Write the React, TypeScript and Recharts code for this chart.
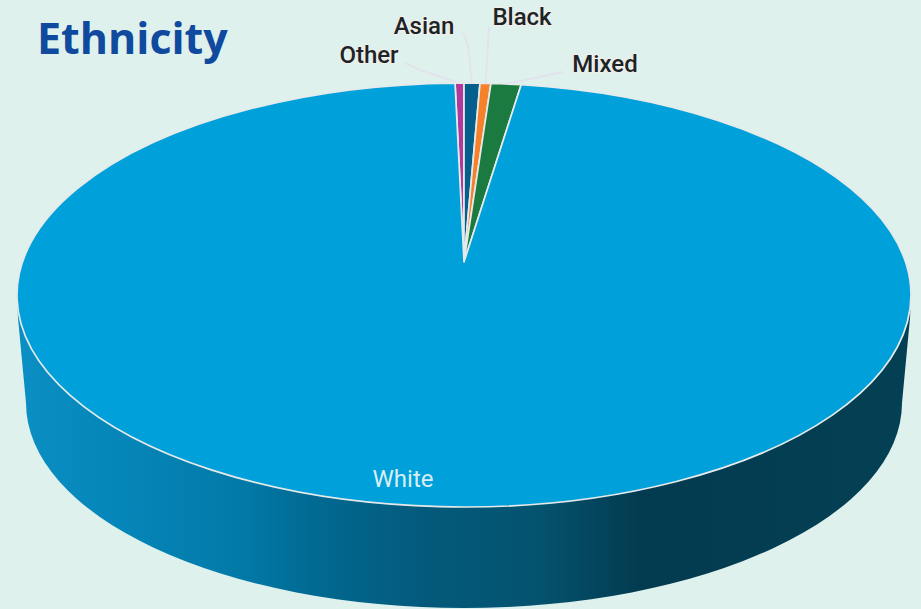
import React from 'react';
import { PieChart, Pie } from 'recharts';

// clockwise from the top of the pie
const categories = ['Other', 'Asian', 'Black', 'Mixed', 'White'];
const shares = [0.32, 0.57, 0.39, 1.08, 97.64];
const sliceColors = ['#b0399b', '#045f8c', '#f5822a', '#1a7a40', '#00a0da'];

const data = categories.map((name, i) => ({ name, value: shares[i], fill: sliceColors[i] }));

// top face is a flattened circle, the apex sits above its centre (perspective)
const SQUASH = 212 / 447;
const APEX_RISE = 33;

// where each label goes, and the route of its leader line
const labelSpots: Record<string, { x: number; y: number; route?: string }> = {
  Other: { x: 369, y: 63, route: '420,70 405,63' },
  Asian: { x: 424, y: 34, route: '468,45 463,33' },
  Black: { x: 522, y: 25, route: '489,27' },
  Mixed: { x: 605, y: 72, route: '563,72' },
  White: { x: 403, y: 487 },
};

const rimPoint = (cx: number, cy: number, r: number, angle: number) => {
  const rad = (angle * Math.PI) / 180;
  return { x: cx + r * Math.cos(rad), y: cy - r * SQUASH * Math.sin(rad) };
};

const FlatSlice = (props: any) => {
  const { cx, cy, outerRadius, startAngle, endAngle, fill, name } = props;
  const a = rimPoint(cx, cy, outerRadius, startAngle);
  const b = rimPoint(cx, cy, outerRadius, endAngle);
  const large = Math.abs(endAngle - startAngle) > 180 ? 1 : 0;
  const top = `M${cx},${cy - APEX_RISE} L${a.x},${a.y} A${outerRadius},${outerRadius * SQUASH} 0 ${large} 1 ${b.x},${b.y} Z`;
  const isWhite = name === 'White' || props.payload?.name === 'White';
  return (
    <g>
      {isWhite && (
        <path
          d={`M${cx - outerRadius},${cy} L${cx - outerRadius + 1},${cy + 23} L${cx - outerRadius + 9},${cy + 108} A438,205 0 0 0 ${cx + outerRadius - 9},${cy + 108} L${cx + outerRadius - 1},${cy + 23} L${cx + outerRadius},${cy} Z`}
          fill="url(#wallGradient)"
        />
      )}
      <path d={top} fill={fill} stroke="#e6eaea" strokeWidth={1.7} strokeLinejoin="round" />
    </g>
  );
};

const renderLabel = (props: any) => {
  const { cx, cy, outerRadius, midAngle, name } = props;
  const spot = labelSpots[name];
  const start = rimPoint(cx, cy, outerRadius, midAngle);
  const isWhite = name === 'White';
  return (
    <g key={name}>
      {spot.route && (
        <polyline
          points={`${start.x},${start.y} ${spot.route}`}
          fill="none"
          stroke="#e2e3ec"
          strokeWidth={2}
        />
      )}
      <text
        x={spot.x}
        y={spot.y}
        textAnchor="middle"
        fontFamily="Roboto, sans-serif"
        fontSize={24}
        fontWeight={isWhite ? 400 : 500}
        fill={isWhite ? '#d8eef6' : '#1a2429'}
        stroke={isWhite ? 'none' : '#fbeee6'}
        strokeWidth={isWhite ? 0 : 1.5}
        paintOrder="stroke"
      >
        {name}
      </text>
    </g>
  );
};

export default function App() {
  return (
    <div style={{ position: 'absolute', left: 0, top: 0, width: 921, height: 609, background: '#dff1ed', overflow: 'hidden' }}>
      <PieChart width={921} height={609} margin={{ top: 0, right: 0, bottom: 0, left: 0 }}>
        <defs>
          <linearGradient id="wallGradient" x1="0" y1="0" x2="1" y2="0">
            <stop offset="0%" stopColor="#0a8fc4" />
            <stop offset="12%" stopColor="#0585b8" />
            <stop offset="25%" stopColor="#027aa8" />
            <stop offset="33%" stopColor="#016a93" />
            <stop offset="45%" stopColor="#045a7c" />
            <stop offset="58%" stopColor="#04536f" />
            <stop offset="70%" stopColor="#033b50" />
            <stop offset="100%" stopColor="#044054" />
          </linearGradient>
        </defs>
        <Pie
          data={data}
          dataKey="value"
          nameKey="name"
          cx={464}
          cy={295}
          outerRadius={447}
          startAngle={91.15}
          endAngle={-268.85}
          shape={FlatSlice}
          label={renderLabel}
          labelLine={false}
          isAnimationActive={false}
        />
        <text x={37} y={54} fontFamily="'Open Sans', sans-serif" fontWeight={700} fontSize={43} fill="#0f4a9e">
          Ethnicity
        </text>
      </PieChart>
    </div>
  );
}
